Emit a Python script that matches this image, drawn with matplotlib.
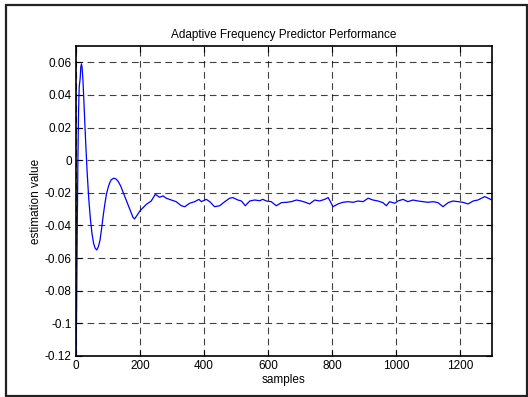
import matplotlib
matplotlib.use("Agg")
import matplotlib.pyplot as plt
from matplotlib.patches import Rectangle

plt.rcParams['font.family'] = ['Liberation Sans', 'DejaVu Sans']

# values
samples = [0, 2, 4, 6, 8, 10, 13, 15, 17, 19, 22, 26, 30, 35, 40, 45, 50, 55,
           60, 65, 70, 75, 80, 85, 90, 95, 100, 105, 110, 118, 125, 132, 140,
           150, 160, 170, 178, 183, 190, 200, 210, 220, 235, 248, 261, 272,
           282, 298, 313, 329, 340, 355, 371, 384, 392, 407, 418, 433, 449,
           465, 480, 490, 506, 517, 529, 543, 558, 574, 584, 595, 610, 626,
           642, 657, 673, 689, 704, 720, 730, 746, 761, 777, 788, 795, 803,
           819, 834, 850, 866, 881, 897, 913, 928, 944, 959, 970, 980, 996,
           1006, 1022, 1037, 1053, 1069, 1084, 1100, 1116, 1131, 1147, 1163,
           1178, 1194, 1209, 1225, 1241, 1256, 1277, 1288, 1300]
values = [-0.125, -0.09, -0.04, 0.0, 0.03, 0.045, 0.05, 0.057, 0.059, 0.057,
          0.048, 0.03, 0.012, -0.008, -0.024, -0.036, -0.045, -0.051,
          -0.054, -0.055, -0.053, -0.049, -0.042, -0.034, -0.027, -0.021,
          -0.017, -0.014, -0.012, -0.011, -0.0115, -0.013, -0.016,
          -0.021, -0.026, -0.031, -0.035, -0.036, -0.034, -0.031, -0.029,
          -0.027, -0.025, -0.0209, -0.0227, -0.0219,
          -0.0233, -0.0244, -0.0254, -0.0279, -0.0285, -0.0264, -0.0254,
          -0.0240, -0.0254, -0.0240, -0.0254, -0.0285, -0.0279,
          -0.0254, -0.0233, -0.0229, -0.0244, -0.0250, -0.0279, -0.0250,
          -0.0244, -0.0248, -0.0240, -0.0250, -0.0254, -0.0279,
          -0.0260, -0.0258, -0.0254, -0.0244, -0.0250, -0.0260, -0.0268,
          -0.0244, -0.0250, -0.0240, -0.0229, -0.0254, -0.0285,
          -0.0268, -0.0258, -0.0254, -0.0258, -0.0250, -0.0254, -0.0233,
          -0.0244, -0.0250, -0.0260, -0.0279, -0.0254, -0.0264,
          -0.0250, -0.0240, -0.0254, -0.0244, -0.0250, -0.0254, -0.0258,
          -0.0254, -0.0260, -0.0285, -0.0260,
          -0.0250, -0.0254, -0.0258, -0.0268, -0.0250, -0.0244, -0.0223,
          -0.0233, -0.0244]

xticks = [0, 200, 400, 600, 800, 1000, 1200]
yticks = [0.06, 0.04, 0.02, 0, -0.02, -0.04, -0.06, -0.08, -0.1, -0.12]
ytick_labels = ['0.06', '0.04', '0.02', '0', '-0.02', '-0.04', '-0.06',
                '-0.08', '-0.1', '-0.12']

fig = plt.figure(figsize=(5.28, 3.97), dpi=100)
fig.patches.append(Rectangle((6 / 528, 1 / 397), 521 / 528, 391 / 397,
                             transform=fig.transFigure, fill=False,
                             edgecolor='#222222', linewidth=1.6))

ax = fig.add_axes([76 / 528, 1 - 356 / 397, 416 / 528, 310 / 397])
ax.plot(samples, values, color='#0000ff', linewidth=0.9)

ax.set_xlim(0, 1300)
ax.set_ylim(-0.12, 0.07)
ax.set_xticks(xticks)
ax.set_xticklabels([str(t) for t in xticks])
ax.set_yticks(yticks)
ax.set_yticklabels(ytick_labels)
ax.tick_params(direction='in', top=True, right=True, length=4,
               labelsize=8.5, pad=3, color='black')
ax.grid(True, color='black', linestyle=(0, (6, 4)), linewidth=0.8, alpha=0.75)
for s in ax.spines.values():
    s.set_linewidth(1.2)

ax.set_title('Adaptive Frequency Predictor Performance', fontsize=8.5, pad=6)
ax.set_xlabel('samples', fontsize=8.5, labelpad=1)
ax.set_ylabel('estimation value', fontsize=8.5, labelpad=2)

fig.savefig('out.png', dpi=100)
